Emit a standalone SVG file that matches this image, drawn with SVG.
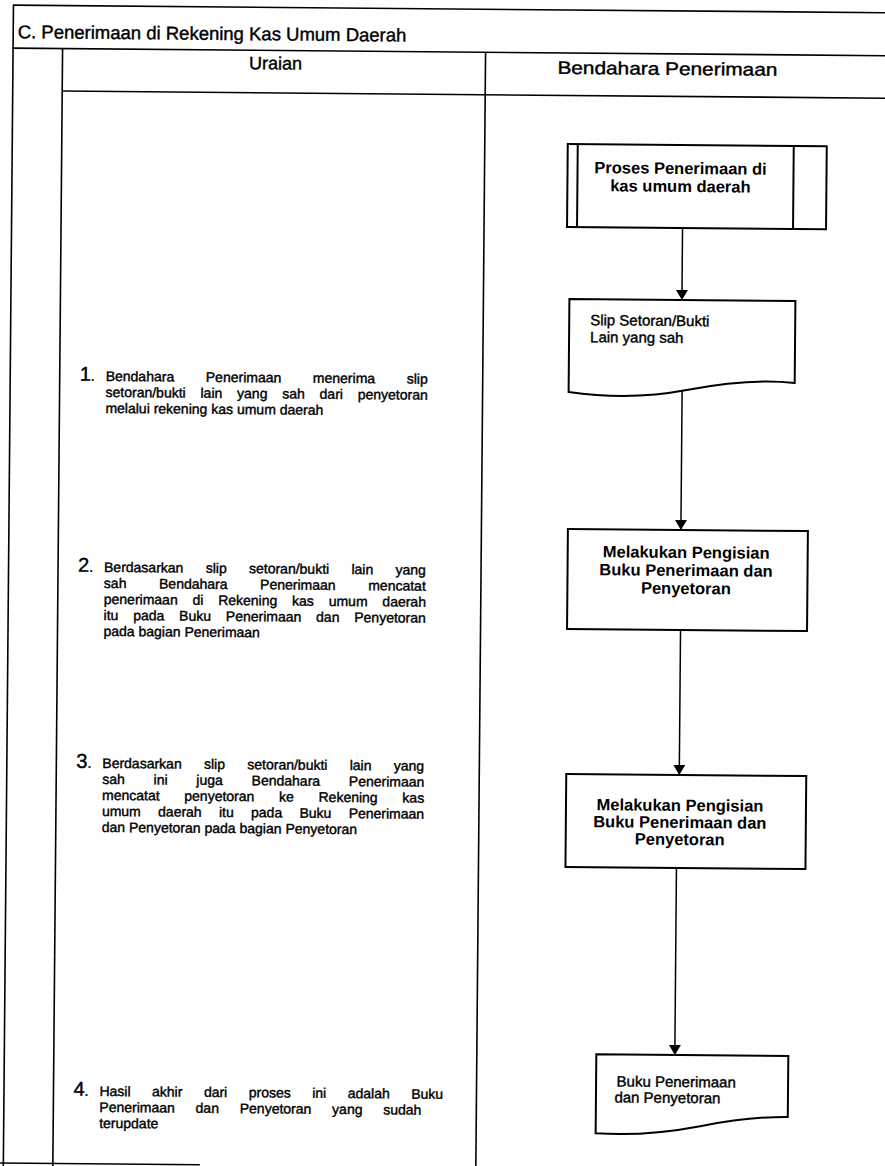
<svg xmlns="http://www.w3.org/2000/svg" width="885" height="1166" viewBox="0 0 885 1166">
  <style>
    .rule { stroke: #000; stroke-width: 1.6; fill: none; }
    .box { stroke: #000; stroke-width: 2; fill: #fff; }
    .conn { stroke: #000; stroke-width: 1.5; fill: none; }
    text { font-family: "Liberation Sans", Arial, sans-serif; fill: #000; stroke: #000; stroke-width: 0.4; }
    .title { font-size: 18.5px; }
    .head { font-size: 18px; text-anchor: middle; }
    .body { font-size: 14px; }
    .num { font-size: 20px; }
    .proc { font-size: 16.5px; font-weight: bold; stroke-width: 0; text-anchor: middle; }
    .doc { font-size: 15px; }
  </style>
  <defs>
    <marker id="arrow" markerUnits="userSpaceOnUse" markerWidth="12" markerHeight="12" refX="10" refY="6" orient="auto">
      <path d="M0,0 L10,6 L0,12 Z" fill="#000"/>
    </marker>
  </defs>
  <rect width="885" height="1166" fill="#fff"/>

  <!-- whole sheet sits slightly rotated on the page -->
  <g transform="rotate(0.5)">
    <!-- table frame -->
    <g id="frame">
      <line class="rule" x1="13" y1="5" x2="900" y2="5"/>
      <line class="rule" x1="13" y1="48" x2="900" y2="48"/>
      <line class="rule" x1="63" y1="90.5" x2="900" y2="90.5"/>
      <line class="rule" x1="13.5" y1="5" x2="13.5" y2="1180"/>
      <line class="rule" x1="63" y1="48" x2="63" y2="1180"/>
      <line class="rule" x1="486" y1="48" x2="486" y2="1180"/>
      <line class="rule" x1="0" y1="1163" x2="210" y2="1163"/>
      <text class="title" x="18" y="38">C. Penerimaan di Rekening Kas Umum Daerah</text>
      <text class="head" x="276" y="67">Uraian</text>
      <text class="head" x="668" y="69" textLength="220" lengthAdjust="spacingAndGlyphs">Bendahara Penerimaan</text>
    </g>

    <!-- description column -->
    <g id="uraian-1">
      <text x="83" y="380"><tspan class="num">1</tspan><tspan class="body">.</tspan></text>
      <text class="body" x="109" y="380" word-spacing="27.7">Bendahara Penerimaan menerima slip</text>
      <text class="body" x="109" y="396" word-spacing="10.9">setoran/bukti lain yang sah dari penyetoran</text>
      <text class="body" x="109" y="412">melalui rekening kas umum daerah</text>
    </g>
    <g id="uraian-2">
      <text x="83" y="571"><tspan class="num">2</tspan><tspan class="body">.</tspan></text>
      <text class="body" x="109" y="571" word-spacing="18.4">Berdasarkan slip setoran/bukti lain yang</text>
      <text class="body" x="109" y="587" word-spacing="28.7">sah Bendahara Penerimaan mencatat</text>
      <text class="body" x="109" y="603" word-spacing="10.9">penerimaan di Rekening kas umum daerah</text>
      <text class="body" x="109" y="619" word-spacing="10.9">itu pada Buku Penerimaan dan Penyetoran</text>
      <text class="body" x="109" y="635">pada bagian Penerimaan</text>
    </g>
    <g id="uraian-3">
      <text x="83" y="767"><tspan class="num">3</tspan><tspan class="body">.</tspan></text>
      <text class="body" x="109" y="767" word-spacing="18.4">Berdasarkan slip setoran/bukti lain yang</text>
      <text class="body" x="109" y="783" word-spacing="24.9">sah ini juga Bendahara Penerimaan</text>
      <text class="body" x="109" y="799" word-spacing="20.8">mencatat penyetoran ke Rekening kas</text>
      <text class="body" x="109" y="815" word-spacing="13.4">umum daerah itu pada Buku Penerimaan</text>
      <text class="body" x="109" y="831">dan Penyetoran pada bagian Penyetoran</text>
    </g>
    <g id="uraian-4">
      <text x="83" y="1095"><tspan class="num">4</tspan><tspan class="body">.</tspan></text>
      <text class="body" x="109" y="1095" word-spacing="17.6">Hasil akhir dari proses ini adalah Buku</text>
      <text class="body" x="109" y="1111" word-spacing="16.9">Penerimaan dan Penyetoran yang sudah</text>
      <text class="body" x="109" y="1127">terupdate</text>
    </g>

    <!-- flow connectors -->
    <g id="connectors">
      <line class="conn" x1="684.5" y1="222" x2="684.5" y2="294" marker-end="url(#arrow)"/>
      <line class="conn" x1="685.5" y1="382" x2="685.5" y2="524" marker-end="url(#arrow)"/>
      <line class="conn" x1="686" y1="624" x2="686" y2="769" marker-end="url(#arrow)"/>
      <line class="conn" x1="684" y1="862" x2="684" y2="1049" marker-end="url(#arrow)"/>
    </g>

    <!-- flow nodes -->
    <g id="proses-kas-umum">
      <rect class="box" x="569" y="139" width="259" height="83"/>
      <line class="box" x1="579" y1="139" x2="579" y2="222"/>
      <line class="box" x1="795" y1="139" x2="795" y2="222"/>
      <text class="proc" x="682" y="168">Proses Penerimaan di</text>
      <text class="proc" x="682" y="186">kas umum daerah</text>
    </g>
    <g id="slip-setoran">
      <path class="box" d="M572,294 H798 V376 C760,372 720,378 690,384 C650,392 610,392 572,387 Z"/>
      <text class="doc" x="593" y="320">Slip Setoran/Bukti</text>
      <text class="doc" x="593" y="337">Lain yang sah</text>
    </g>
    <g id="pengisian-penerimaan">
      <rect class="box" x="572.5" y="524" width="240" height="100"/>
      <text class="proc" x="691" y="552">Melakukan Pengisian</text>
      <text class="proc" x="691" y="570">Buku Penerimaan dan</text>
      <text class="proc" x="691" y="588">Penyetoran</text>
    </g>
    <g id="pengisian-penyetoran">
      <rect class="box" x="573" y="769" width="240" height="93"/>
      <text class="proc" x="687" y="805">Melakukan Pengisian</text>
      <text class="proc" x="687" y="822">Buku Penerimaan dan</text>
      <text class="proc" x="687" y="839">Penyetoran</text>
    </g>
    <g id="buku-penerimaan">
      <path class="box" d="M605.5,1049 H797.5 V1110 C770,1110 740,1114 710,1120 C670,1128 640,1130 605.5,1128 Z"/>
      <text class="doc" x="626" y="1081">Buku Penerimaan</text>
      <text class="doc" x="624" y="1097">dan Penyetoran</text>
    </g>
  </g>
</svg>
